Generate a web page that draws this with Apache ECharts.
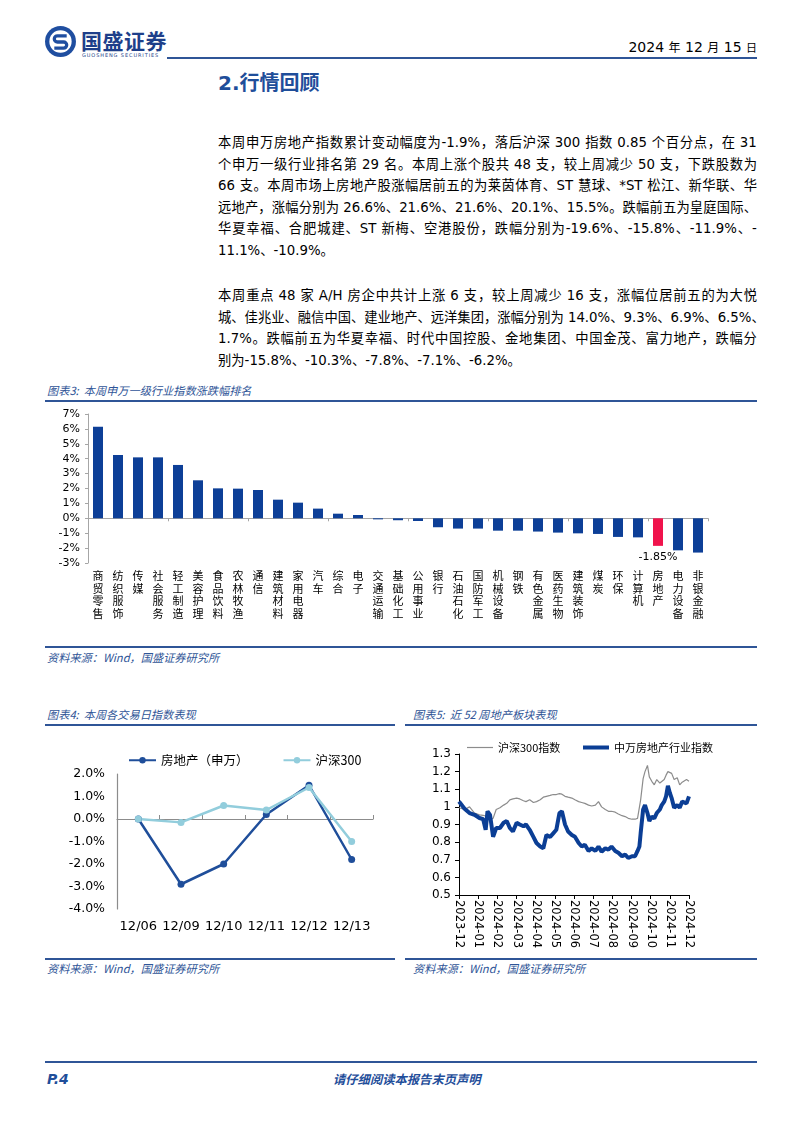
<!DOCTYPE html>
<html><head><meta charset="utf-8">
<script src="https://cdn.jsdelivr.net/npm/echarts@6/dist/echarts.min.js"></script>
<style>
html,body{margin:0;padding:0;background:#fff;}
body{width:802px;height:1133px;position:relative;overflow:hidden;font-family:"DejaVu Sans","Noto Sans CJK SC",sans-serif;color:#000;}
.abs{position:absolute;white-space:nowrap;}
.tl{position:absolute;left:218px;width:539px;display:flex;justify-content:space-between;white-space:pre;font-size:13.3px;line-height:20px;}
.tl.last{display:block;}
.rule{position:absolute;height:2px;background:#2F5597;}
.cap{position:absolute;font-size:11.2px;font-style:italic;color:#2F5597;font-family:"Noto Sans CJK SC","DejaVu Sans",sans-serif;white-space:nowrap;line-height:14px;}
.chart{position:absolute;}
</style></head>
<body>
<!-- header -->
<svg class="abs" style="left:44px;top:25px" width="33" height="33" viewBox="0 0 32 32">
  <circle cx="16" cy="16" r="15" fill="#1F4EA0"/>
  <circle cx="16" cy="16" r="10.8" fill="#fff"/>
  <path d="M22 10.5 H13 a3 3 0 0 0 0 6 H19 a3 3 0 0 1 0 6 H10" fill="none" stroke="#1F4EA0" stroke-width="3.2"/>
</svg>
<div class="abs" style="left:81px;top:27px;font-size:21px;font-weight:bold;color:#1E3F8A;font-family:'Noto Sans CJK SC';letter-spacing:0.5px;line-height:26px;">国盛证券</div>
<div class="abs" style="left:82px;top:52px;font-size:5px;letter-spacing:0.9px;color:#1E3F8A;line-height:6px;">GUOSHENG SECURITIES</div>
<div class="abs" style="right:45px;top:38px;font-size:14px;line-height:18px;">2024 <span style="font-size:12px">年</span> 12 <span style="font-size:12px">月</span> 15 <span style="font-size:11px">日</span></div>
<div class="rule" style="left:167px;top:57px;width:590px;"></div>
<div class="abs" style="left:218px;top:69px;font-size:20px;font-weight:bold;color:#1F4E9A;line-height:26px;font-family:'DejaVu Sans','Noto Sans CJK SC';">2.<span style="font-family:'Noto Sans CJK SC'">行情回顾</span></div>

<!-- captions and rules -->
<div class="cap" style="left:47px;top:383px;">图表3:&nbsp; 本周申万一级行业指数涨跌幅排名</div>
<div class="rule" style="left:45px;top:400px;width:712px;"></div>
<div class="rule" style="left:45px;top:646px;width:712px;"></div>
<div class="cap" style="left:47px;top:650px;">资料来源：Wind，国盛证券研究所</div>

<div class="cap" style="left:47px;top:707px;">图表4:&nbsp; 本周各交易日指数表现</div>
<div class="cap" style="left:413px;top:707px;">图表5:&nbsp; 近 52 周地产板块表现</div>
<div class="rule" style="left:45px;top:724px;width:350px;"></div>
<div class="rule" style="left:405px;top:724px;width:352px;"></div>
<div class="rule" style="left:45px;top:958px;width:350px;"></div>
<div class="rule" style="left:405px;top:958px;width:352px;"></div>
<div class="cap" style="left:47px;top:961px;">资料来源：Wind，国盛证券研究所</div>
<div class="cap" style="left:413px;top:961px;">资料来源：Wind，国盛证券研究所</div>

<!-- footer -->
<div class="rule" style="left:45px;top:1061px;width:712px;"></div>
<div class="abs" style="left:47px;top:1070px;font-size:14px;font-weight:bold;font-style:italic;color:#1F4E9A;line-height:18px;">P.4</div>
<div class="abs" style="left:333px;top:1070px;font-size:12.3px;font-weight:bold;font-style:italic;color:#1F4E9A;line-height:18px;font-family:'Noto Sans CJK SC';">请仔细阅读本报告末页声明</div>

<div id="c3" class="chart" style="left:40px;top:405px;width:700px;height:238px;"></div>
<div id="c4" class="chart" style="left:45px;top:730px;width:350px;height:226px;"></div>
<div id="c5" class="chart" style="left:400px;top:730px;width:345px;height:226px;"></div>

<script>
// ---------- text ----------
const para1 = [
  '本周申万房地产指数累计变动幅度为-1.9%，落后沪深 300 指数 0.85 个百分点，在 31',
  '个申万一级行业排名第 29 名。本周上涨个股共 48 支，较上周减少 50 支，下跌股数为',
  '66 支。本周市场上房地产股涨幅居前五的为莱茵体育、ST 慧球、*ST 松江、新华联、华',
  '远地产，涨幅分别为 26.6%、21.6%、21.6%、20.1%、15.5%。跌幅前五为皇庭国际、',
  '华夏幸福、合肥城建、ST 新梅、空港股份，跌幅分别为-19.6%、-15.8%、-11.9%、-',
  '11.1%、-10.9%。'
];
const para2 = [
  '本周重点 48 家 A/H 房企中共计上涨 6 支，较上周减少 16 支，涨幅位居前五的为大悦',
  '城、佳兆业、融信中国、建业地产、远洋集团，涨幅分别为 14.0%、9.3%、6.9%、6.5%、',
  '1.7%。跌幅前五为华夏幸福、时代中国控股、金地集团、中国金茂、富力地产，跌幅分',
  '别为-15.8%、-10.3%、-7.8%、-7.1%、-6.2%。'
];
function renderLines(lines, top0, step){
  lines.forEach((ln,i)=>{
    const d=document.createElement('div');
    d.className='tl'+(i===lines.length-1?' last':'');
    d.style.top=(top0+i*step)+'px';
    if(i===lines.length-1){ d.textContent=ln; }
    else{
      ln.match(/[\u3000-\u303f\u4e00-\u9fff\uff00-\uffef]|[^\u3000-\u303f\u4e00-\u9fff\uff00-\uffef]+/g).forEach(t=>{
        const s=document.createElement('span'); s.textContent=t; d.appendChild(s);
      });
    }
    document.body.appendChild(d);
  });
}
renderLines(para1, 133, 21.6);
renderLines(para2, 286, 21.6);

// ---------- chart 3 data ----------
const industries = ['商贸零售','纺织服饰','传媒','社会服务','轻工制造','美容护理','食品饮料','农林牧渔','通信','建筑材料','家用电器','汽车','综合','电子','交通运输','基础化工','公用事业','银行','石油石化','国防军工','机械设备','钢铁','有色金属','医药生物','建筑装饰','煤炭','环保','计算机','房地产','电力设备','非银金融'];
const industryChange = [6.15,4.25,4.09,4.09,3.58,2.55,2.01,1.99,1.90,1.25,1.05,0.65,0.31,0.22,-0.07,-0.13,-0.18,-0.60,-0.69,-0.69,-0.83,-0.83,-0.89,-0.96,-1.01,-1.05,-1.25,-1.28,-1.85,-2.15,-2.30];
const highlightIndustry = '房地产';

// ---------- chart 4 data ----------
const tradeDays = ['12/06','12/09','12/10','12/11','12/12','12/13'];
const realEstateDaily = [0,-2.9,-2.0,0.2,1.5,-1.8];
const hs300Daily = [0,-0.15,0.6,0.4,1.4,-1.0];

// ---------- chart 5 data ----------
const monthLabels = ['2023-12','2024-01','2024-02','2024-03','2024-04','2024-05','2024-06','2024-07','2024-08','2024-09','2024-10','2024-11','2024-12'];
const weekDates = ['2023-12-08','2023-12-17','2023-12-25','2024-01-02','2024-01-10','2024-01-16','2024-01-20','2024-01-23','2024-01-27','2024-02-01',
'2024-02-06','2024-02-12','2024-02-18','2024-02-23','2024-02-28','2024-03-04','2024-03-10','2024-03-15','2024-03-21','2024-03-25',
'2024-03-31','2024-04-06','2024-04-11','2024-04-17','2024-04-22','2024-04-27','2024-05-03','2024-05-08','2024-05-13','2024-05-18',
'2024-05-22','2024-05-27','2024-06-01','2024-06-07','2024-06-12','2024-06-18','2024-06-23','2024-06-28','2024-07-04','2024-07-09',
'2024-07-15','2024-07-20','2024-07-25','2024-07-31','2024-08-05','2024-08-10','2024-08-16','2024-08-21','2024-08-27','2024-09-01',
'2024-09-06','2024-09-12','2024-09-17','2024-09-21','2024-09-24','2024-09-26','2024-09-30','2024-10-03','2024-10-07','2024-10-10',
'2024-10-14','2024-10-18','2024-10-22','2024-10-27','2024-10-30','2024-11-03','2024-11-06','2024-11-09','2024-11-12','2024-11-15',
'2024-11-19','2024-11-24','2024-11-28','2024-12-02','2024-12-05','2024-12-09','2024-12-13'];
const swRealEstateIndex = [1.03,0.99,0.965,0.955,0.937,0.93,0.87,0.975,0.955,0.83,
0.88,0.88,0.91,0.92,0.88,0.86,0.91,0.90,0.89,0.90,
0.87,0.83,0.795,0.775,0.765,0.84,0.83,0.85,0.87,0.965,
0.975,0.90,0.86,0.84,0.83,0.795,0.775,0.785,0.75,0.765,
0.75,0.775,0.745,0.765,0.757,0.775,0.75,0.74,0.72,0.73,
0.71,0.72,0.72,0.75,0.775,0.85,0.985,1.01,0.965,0.92,
0.945,0.935,0.965,0.985,1.01,1.03,1.06,1.12,1.08,1.05,
0.995,1.01,0.995,1.03,1.04,1.02,1.06];
const hs300Index = [0.995,0.985,1.00,0.965,0.955,0.952,0.948,0.94,0.925,0.935,
0.985,0.995,1.01,1.02,1.04,1.045,1.05,1.045,1.035,1.03,
1.04,1.025,1.03,1.04,1.055,1.06,1.065,1.07,1.07,1.075,
1.072,1.06,1.055,1.05,1.04,1.03,1.025,1.02,1.01,1.005,
1.01,1.03,1.00,0.985,0.975,0.975,0.97,0.96,0.95,0.945,
0.935,0.93,0.93,0.935,0.945,1.04,1.16,1.20,1.235,1.17,
1.145,1.125,1.155,1.135,1.145,1.155,1.18,1.20,1.205,1.19,
1.155,1.165,1.125,1.14,1.15,1.155,1.145];
const axisStartDate = '2023-12-08', axisEndDate = '2024-12-13';

const CJK = 'Noto Sans CJK SC';
const LAT = 'DejaVu Sans';

// ---------- chart 3 ----------
const c3 = echarts.init(document.getElementById('c3'));
c3.setOption({
  animation:false,
  grid:{left:48, top:9, width:620, height:149},
  xAxis:[
    {type:'category', data:industries, position:'bottom',
     axisLine:{show:false, onZero:false}, axisTick:{show:false},
     axisLabel:{interval:0, margin:7, fontSize:11, lineHeight:12.5, color:'#000', fontFamily:CJK, verticalAlign:'top',
       formatter:v=>v.split('').join('\n')}},
    {type:'category', data:industries, position:'bottom',
     axisLine:{onZero:true, lineStyle:{color:'#A6A6A6', width:1}},
     axisTick:{show:true, length:3, lineStyle:{color:'#A6A6A6'}}, axisLabel:{show:false}}
  ],
  yAxis:{type:'value', min:-3, max:7, interval:1,
    axisLine:{show:true, lineStyle:{color:'#A6A6A6'}}, axisTick:{show:true, length:3, lineStyle:{color:'#A6A6A6'}},
    splitLine:{show:false},
    axisLabel:{formatter:'{value}%', fontSize:11, color:'#000', fontFamily:LAT, margin:8}},
  series:[{type:'bar', barWidth:10,
    data: industries.map((n,i)=>({value:industryChange[i],
      itemStyle:{color: n===highlightIndustry ? '#F0134C' : '#0D3F97'},
      label:{show:n===highlightIndustry, position:'bottom', distance:6, color:'#000', fontSize:11, fontFamily:LAT,
        formatter:p=>p.value.toFixed(2)+'%'}}))}]
});

// ---------- chart 4 ----------
const c4 = echarts.init(document.getElementById('c4'));
c4.setOption({
  animation:false,
  grid:{left:72, top:44, width:256, height:135},
  legend:{top:19, left:78, itemWidth:27, itemHeight:8, itemGap:34,
    textStyle:{fontSize:12.5, color:'#000', fontFamily:CJK},
    data:['房地产（申万）','沪深300']},
  xAxis:[
    {type:'category', data:tradeDays, position:'bottom',
     axisLine:{show:false, onZero:false}, axisTick:{show:false},
     axisLabel:{interval:0, margin:11, fontSize:13, color:'#000', fontFamily:LAT}},
    {type:'category', data:tradeDays, position:'bottom',
     axisLine:{onZero:true, lineStyle:{color:'#8C8C8C', width:1.2}},
     axisTick:{show:true, inside:true, length:4, lineStyle:{color:'#8C8C8C'}}, axisLabel:{show:false}}
  ],
  yAxis:{type:'value', min:-4, max:2, interval:1,
    axisLine:{show:true, lineStyle:{color:'#8C8C8C', width:1.2}}, axisTick:{show:false},
    splitLine:{show:false},
    axisLabel:{formatter:v=>v.toFixed(1)+'%', fontSize:12.5, color:'#000', fontFamily:LAT, margin:12}},
  series:[
    {name:'房地产（申万）', type:'line', data:realEstateDaily, symbol:'circle', symbolSize:7,
     lineStyle:{color:'#1F4E9A', width:2.5}, itemStyle:{color:'#1F4E9A'}},
    {name:'沪深300', type:'line', data:hs300Daily, symbol:'circle', symbolSize:7,
     lineStyle:{color:'#92CDDC', width:2.5}, itemStyle:{color:'#92CDDC'}}
  ]
});

// ---------- chart 5 ----------
const t0 = Date.parse(axisStartDate), t1 = Date.parse(axisEndDate);
const posOf = d => (Date.parse(d)-t0)/(t1-t0)*(monthLabels.length-1);
const c5 = echarts.init(document.getElementById('c5'));
c5.setOption({
  animation:false,
  grid:{left:59, top:24, width:230, height:141},
  legend:[
    {top:7, left:62, itemWidth:26, itemHeight:1.2, icon:'rect',
     textStyle:{fontSize:11, color:'#000', fontFamily:CJK}, data:['沪深300指数']},
    {top:7, left:178, itemWidth:26, itemHeight:4, icon:'rect',
     textStyle:{fontSize:11, color:'#000', fontFamily:CJK}, data:['中万房地产行业指数']}
  ],
  xAxis:{type:'value', min:0, max:monthLabels.length-1, interval:1,
    axisLine:{lineStyle:{color:'#000', width:1}}, axisTick:{show:true, length:4, lineStyle:{color:'#000'}},
    splitLine:{show:false},
    axisLabel:{rotate:-90, margin:5, fontSize:11.5, color:'#000', fontFamily:LAT,
      formatter:v=>monthLabels[Math.round(v)]}},
  yAxis:{type:'value', min:0.5, max:1.3, interval:0.1,
    axisLine:{show:true, lineStyle:{color:'#000', width:1}}, axisTick:{show:true, length:4, lineStyle:{color:'#000'}},
    splitLine:{show:false},
    axisLabel:{formatter:v=>String(+v.toFixed(1)), fontSize:12, color:'#000', fontFamily:LAT, margin:8}},
  series:[
    {name:'沪深300指数', type:'line', symbol:'none', data:weekDates.map((d,i)=>[posOf(d), hs300Index[i]]),
     lineStyle:{color:'#8C8C8C', width:1.2}, itemStyle:{color:'#8C8C8C'}},
    {name:'中万房地产行业指数', type:'line', symbol:'none', data:weekDates.map((d,i)=>[posOf(d), swRealEstateIndex[i]]),
     lineStyle:{color:'#0B3E95', width:4}, itemStyle:{color:'#0B3E95'}}
  ]
});
</script>
</body></html>
